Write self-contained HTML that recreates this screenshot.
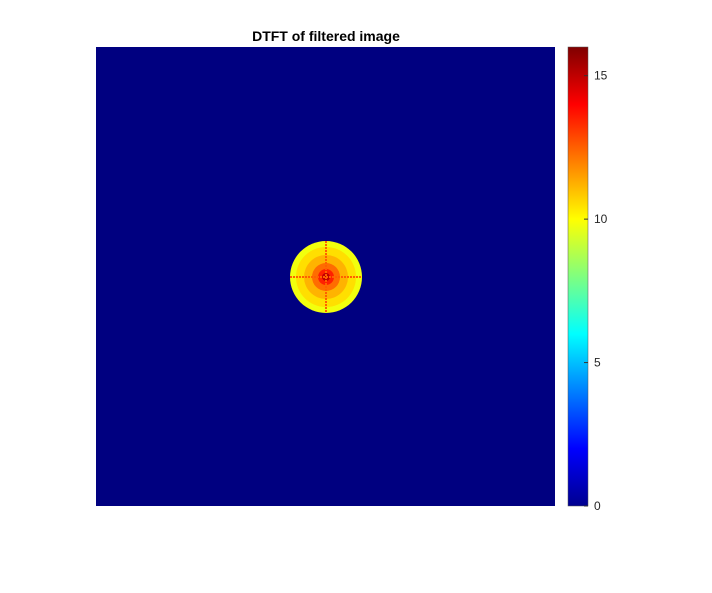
<!DOCTYPE html>
<html><head><meta charset="utf-8"><style>
body{margin:0;background:#fff;}
svg{display:block;font-family:"Liberation Sans",sans-serif;}
</style></head><body>
<svg id="chart" width="712" height="593">
<defs>
<linearGradient id="jet" x1="0" y1="1" x2="0" y2="0">
<stop offset="0" stop-color="#00008f"/>
<stop offset="0.125" stop-color="#0000ff"/>
<stop offset="0.375" stop-color="#00ffff"/>
<stop offset="0.625" stop-color="#ffff00"/>
<stop offset="0.875" stop-color="#ff0000"/>
<stop offset="1" stop-color="#800000"/>
</linearGradient>
</defs>
<text x="326" y="41" text-anchor="middle" font-size="14" font-weight="bold">DTFT of filtered image</text>
<rect x="96" y="47" width="459" height="459" fill="#000080"/>
<g id="spot"></g>
<rect x="568" y="47" width="20" height="459" fill="url(#jet)" stroke="#555" stroke-width="0.5"/>
<g id="cticks"></g>
</svg>
<script>
const tickValues=[0,5,10,15];
const cmax=16;
const ringRadii=[36,30,22,14,8,4];
const ringValues=[9.8,10.5,11.2,12.3,13.5,15];
const crossValue=12.5;
function cy(v){return 506-v/cmax*459;}
function jet(v){const t=v/cmax;
 const r=Math.max(0,Math.min(1,1.5-Math.abs(4*t-3))),g=Math.max(0,Math.min(1,1.5-Math.abs(4*t-2))),b=Math.max(0,Math.min(1,1.5-Math.abs(4*t-1)));
 return `rgb(${Math.round(r*255)},${Math.round(g*255)},${Math.round(b*255)})`;}
const ns="http://www.w3.org/2000/svg";
const spot=document.getElementById('spot');
const cx=326,cyy=277;
ringRadii.forEach((r,i)=>{const c=document.createElementNS(ns,'circle');
c.setAttribute('cx',cx);c.setAttribute('cy',cyy);c.setAttribute('r',r);c.setAttribute('fill',jet(ringValues[i]));


spot.appendChild(c);});
[[cx-36,cyy,cx+36,cyy],[cx,cyy-36,cx,cyy+36]].forEach(l=>{const e=document.createElementNS(ns,'line');
e.setAttribute('x1',l[0]);e.setAttribute('y1',l[1]);e.setAttribute('x2',l[2]);e.setAttribute('y2',l[3]);
e.setAttribute('stroke',jet(crossValue));e.setAttribute('stroke-width','2');e.setAttribute('stroke-dasharray','2 1');


spot.appendChild(e);});
const ct=document.getElementById('cticks');
tickValues.forEach(v=>{const y=cy(v);
const l=document.createElementNS(ns,'line');l.setAttribute('x1',584);l.setAttribute('x2',588);l.setAttribute('y1',y);l.setAttribute('y2',y);l.setAttribute('stroke','#333');


ct.appendChild(l);
const t=document.createElementNS(ns,'text');t.setAttribute('x',594);t.setAttribute('y',y+4);t.setAttribute('font-size','12');t.setAttribute('fill','#262626');t.textContent=v;


ct.appendChild(t);});
</script>
</body></html>
